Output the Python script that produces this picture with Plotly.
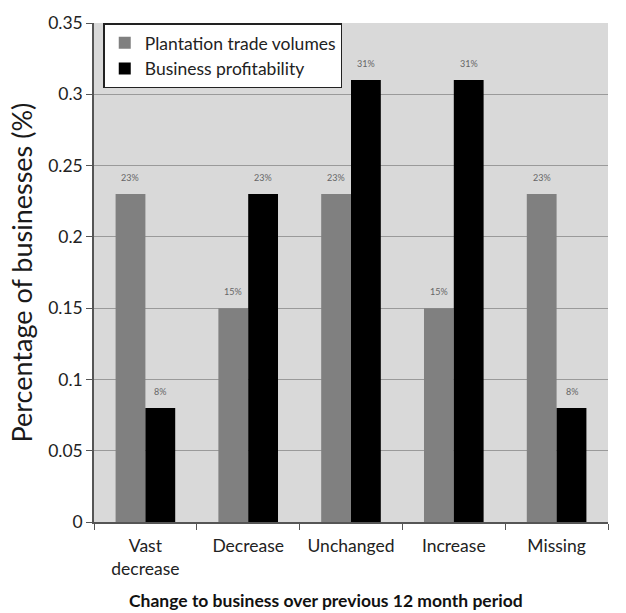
import plotly.graph_objects as go

categories = ["Vast<br>decrease", "Decrease", "Unchanged", "Increase", "Missing"]
plantation = [0.23, 0.15, 0.23, 0.15, 0.23]
profitability = [0.08, 0.23, 0.31, 0.31, 0.08]
labels_plant = ["23%", "15%", "23%", "15%", "23%"]
labels_profit = ["8%", "23%", "31%", "31%", "8%"]
y_ticks = [0, 0.05, 0.1, 0.15, 0.2, 0.25, 0.3, 0.35]
y_ticklabels = ["0", "0.05", "0.1", "0.15", "0.2", "0.25", "0.3", "0.35"]
x_title = "Change to business over previous 12 month period"
y_title = "Percentage of businesses (%)"

FONT = "Lato, Open Sans, sans-serif"

fig = go.Figure()
fig.add_trace(go.Bar(x=categories, y=plantation, name="Plantation trade volumes",
                     marker=dict(color="#808080", line=dict(width=0))))
fig.add_trace(go.Bar(x=categories, y=profitability, name="Business profitability",
                     marker=dict(color="#000000", line=dict(width=0))))

for i, c in enumerate(categories):
    fig.add_annotation(x=c, y=plantation[i], text=labels_plant[i], showarrow=False,
                       xshift=-15, yshift=9, yanchor="bottom",
                       font=dict(size=9, color="#666666", family=FONT))
    fig.add_annotation(x=c, y=profitability[i], text=labels_profit[i], showarrow=False,
                       xshift=15, yshift=9, yanchor="bottom",
                       font=dict(size=9, color="#666666", family=FONT))

fig.add_annotation(xref="paper", yref="paper", x=0.451, y=0, yshift=-78,
                   xanchor="center", yanchor="middle", showarrow=False,
                   text="<b>" + x_title + "</b>",
                   font=dict(size=17.5, color="#111111", family=FONT))
fig.add_annotation(xref="paper", yref="paper", x=0, y=0.5, xshift=-73,
                   xanchor="center", yanchor="middle", showarrow=False,
                   textangle=-90, text=y_title,
                   font=dict(size=27, color="#1a1a1a", family=FONT))

fig.update_layout(
    width=626, height=613,
    margin=dict(l=94, r=18, t=18, b=91),
    paper_bgcolor="white", plot_bgcolor="#d9d9d9",
    barmode="group", bargap=0.42, bargroupgap=0,
    font=dict(family=FONT, size=17, color="#222222"),
    showlegend=True,
    legend=dict(x=0.018, y=0.999, xanchor="left", yanchor="top",
                bgcolor="white", bordercolor="#222222", borderwidth=1.5,
                font=dict(size=17.5, family=FONT), tracegroupgap=0,
                itemwidth=30),
    xaxis=dict(tickson="boundaries", ticks="outside", ticklen=6, tickcolor="#555555",
               showline=True, linecolor="#555555", linewidth=1.5,
               ticklabelstandoff=7,
               tickfont=dict(size=17.5, color="#222222")),
    yaxis=dict(range=[0, 0.35], tickvals=y_ticks, ticktext=y_ticklabels,
               ticks="outside", ticklen=6, tickcolor="#555555",
               showline=True, linecolor="#555555", linewidth=1.5,
               showgrid=True, gridcolor="#9a9a9a", gridwidth=1, zeroline=False,
               tickfont=dict(size=17.5, color="#222222")),
)

fig.write_html("out.html")
